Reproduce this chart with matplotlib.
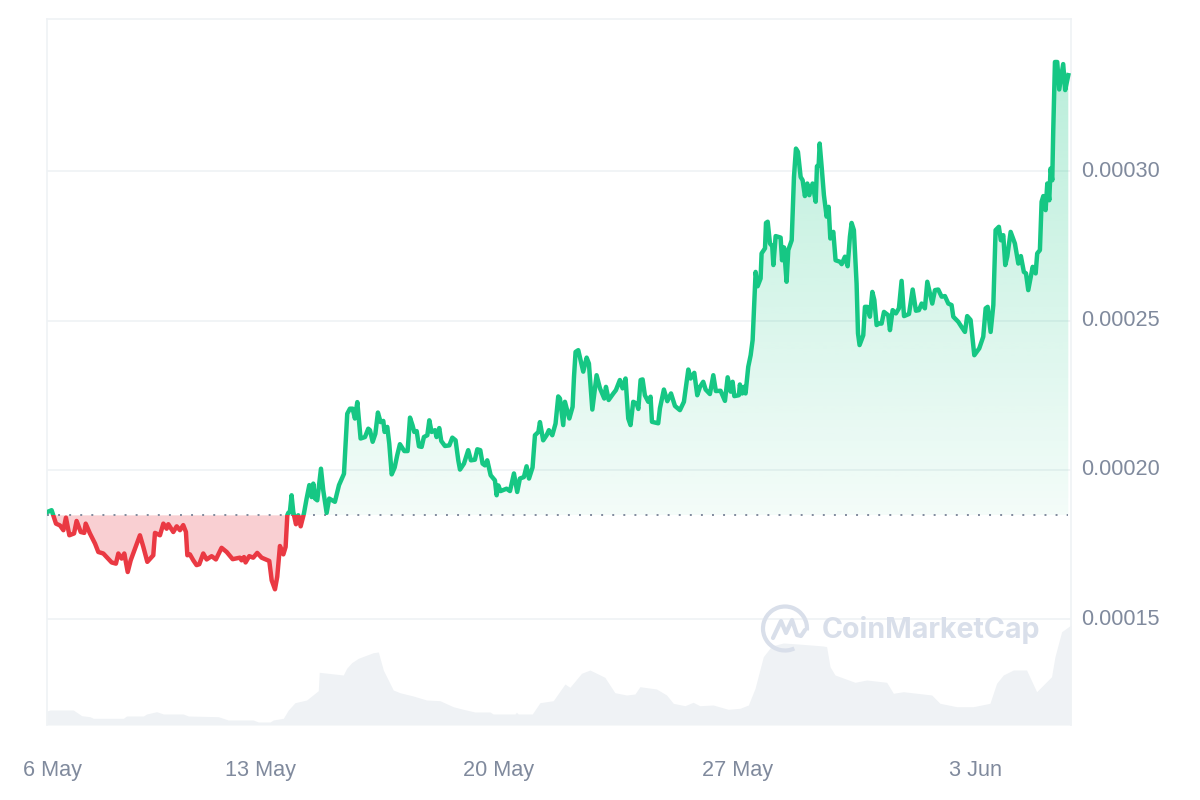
import numpy as np
import matplotlib
matplotlib.use("Agg")
import matplotlib.pyplot as plt
from matplotlib.path import Path
from matplotlib.patches import Rectangle, Arc

plt.rcParams['font.family'] = ['Liberation Sans', 'DejaVu Sans']

# hours since 6 May 00:00
hours = [18.2,21.2,22.4,24.3,27.1,29.5,31.3,33.7,37.0,38.8,41.7,44.2,45.2,48.2,51.8,54.1,57.6,63.5,66.5,68.2,70.5,72.4,74.8,76.9,83.4,85.8,88.6,92.8,94.0,97.5,99.9,102.2,103.4,106.9,109.3,111.6,113.9,115.8,116.8,118.6,121.0,123.3,125.2,128.0,130.4,133.9,136.9,140.9,144.5,148.7,153.8,155.0,156.7,157.8,160.4,163.2,166.0,169.1,174.5,176.2,178.5,180.1,182.0,184.4,186.0,187.2,187.9,189.0,190.2,191.4,193.3,194.9,196.6,198.9,200.8,202.7,204.3,205.5,206.7,208.3,210.9,212.5,214.9,216.7,220.7,223.6,227.1,229.4,231.3,233.2,234.8,236.5,238.8,241.9,244.2,
 245.4,247.3,249.2,251.0,252.9,254.8,255.7,257.6,259.0,260.7,262.8,264.6,266.5,269.6,271.9,273.6,275.4,276.6,278.3,279.9,281.8,283.4,285.8,287.2,288.8,291.2,292.3,294.2,295.6,298.2,301.3,303.4,305.7,307.6,308.8,311.6,314.6,316.5,319.3,321.0,323.1,324.7,326.4,328.0,330.4,333.4,334.6,335.8,337.4,341.6,344.0,346.8,349.1,351.0,353.8,355.7,357.4,359.9,361.6,364.0,365.1,367.4,369.8,371.4,373.8,376.1,378.0,
 379.2,381.5,382.7,385.8,388.1,389.1,390.2,392.1,395.6,398.0,399.6,402.0,405.0,407.4,410.4,411.6,413.5,416.8,418.6,421.4,423.3,425.4,427.3,428.9,430.8,433.2,434.4,436.0,437.4,439.0,441.4,443.0,444.0,448.4,449.6,452.4,454.8,457.4,460.2,463.7,466.5,469.6,471.2,473.8,475.9,477.8,480.1,481.8,484.8,487.2,489.0,492.3,495.4,497.3,499.4,500.8,502.0,505.2,505.9,507.6,508.8,509.9,511.8,513.5,514.9,
 517.0,518.4,520.5,521.2,523.6,524.3,525.5,527.1,528.7,529.5,531.1,534.6,535.6,537.0,538.8,540.0,542.4,544.0,545.4,546.8,548.7,550.1,551.7,553.4,554.8,557.1,559.3,560.2,561.4,562.1,563.5,565.1,567.0,568.4,569.6,571.7,573.3,576.4,577.6,579.9,581.8,583.4,584.6,586.2,588.1,589.1,590.2,592.8,594.0,595.6,597.5,599.2,600.6,602.2,603.9,605.7,607.4,610.4,611.6,613.5,615.8,617.9,619.8,621.5,625.0,627.6,629.9,632.0,633.9,636.2,637.9,641.4,643.3,645.6,648.0,650.3,652.7,655.0,656.2,659.7,662.0,664.4,666.0,668.4,671.0,674.5,677.3,679.0,680.4,682.5,684.4,686.0,688.3,689.7,691.4,692.8,694.2,696.6,699.6,702.0,703.8,705.9,707.4,709.0,712.1,714.2,715.3,717.2,718.4,719.6,721.2,722.4,723.8,724.7,725.9,726.6,727.8,729.4,730.8,733.6,735.0,737.2]

# price in units of 0.00001
price_e5 = [18.59,18.65,18.48,18.20,18.14,17.98,18.40,17.81,17.87,18.29,17.92,17.89,18.20,17.87,17.53,17.25,17.20,16.90,16.86,17.20,17.03,17.20,16.58,16.97,17.81,17.42,16.92,17.14,17.89,17.81,18.20,18.03,18.18,17.92,18.11,17.98,18.15,17.92,17.14,17.17,16.97,16.81,16.84,17.20,17.00,17.11,17.00,17.39,17.25,17.01,17.06,16.97,17.08,16.90,17.11,17.06,17.22,17.06,16.95,16.30,16.00,16.42,17.45,17.17,17.42,18.48,18.56,18.59,19.15,18.59,18.18,18.48,18.11,18.54,19.04,19.49,19.09,19.54,19.04,18.98,20.04,19.32,18.56,19.04,18.93,19.49,19.87,21.88,22.05,22.05,21.72,22.27,21.05,21.10,21.38,
 21.33,20.94,21.21,21.92,21.60,21.64,21.27,21.44,20.88,19.85,20.08,20.49,20.86,20.63,20.63,21.75,21.49,21.27,21.30,20.79,20.77,21.10,21.16,21.66,21.27,21.33,21.10,21.40,20.97,20.80,20.82,21.08,20.99,20.32,20.01,20.21,20.66,20.32,20.34,20.69,20.66,20.21,20.15,20.32,19.82,19.65,19.15,19.48,19.29,19.37,19.29,19.88,19.26,19.71,19.76,20.12,19.71,20.08,21.16,21.27,21.60,20.99,21.16,21.33,21.16,21.55,22.46,
 22.39,21.50,22.28,21.72,22.11,23.12,23.95,24.01,23.29,23.76,23.56,22.02,23.17,22.73,22.39,22.78,22.34,22.56,22.67,23.01,22.73,23.06,21.72,21.50,22.28,22.22,22.04,23.01,23.03,22.50,22.28,22.45,21.61,21.56,22.06,22.69,22.30,22.56,22.14,22.00,22.28,23.36,23.06,23.25,22.50,22.78,22.95,22.69,22.54,23.17,22.64,22.65,22.31,23.10,22.62,22.95,22.47,22.50,22.86,22.56,22.78,22.56,23.45,23.84,24.35,
 26.63,26.15,26.41,27.25,27.42,28.27,28.31,27.58,27.49,26.86,27.83,27.78,27.02,27.45,26.30,27.36,27.69,29.81,30.76,30.65,29.81,29.70,29.17,29.59,29.20,29.59,28.98,30.17,30.20,30.93,30.15,29.20,28.48,28.81,27.75,27.97,27.02,26.97,26.89,27.14,26.82,27.81,28.27,28.03,26.24,24.57,24.18,24.51,25.46,25.46,25.13,25.96,25.69,24.85,24.90,24.90,25.29,25.18,24.68,25.35,25.24,25.41,26.33,25.15,25.22,26.04,25.33,25.35,25.57,25.41,26.30,25.57,26.02,26.04,25.80,25.82,25.57,25.52,25.13,24.96,24.79,24.62,25.15,25.02,23.84,24.07,24.46,25.41,25.46,24.62,25.52,28.03,28.14,27.69,27.86,26.86,27.14,27.97,27.58,26.91,27.16,26.63,26.58,26.02,26.80,26.58,27.25,27.36,28.98,29.17,28.70,29.59,29.03,30.09,29.70,31.38,33.66,33.66,32.74,33.59,32.72,33.22]

baseline_price = 0.00018478

# relative volume (arbitrary units, unlabelled in the chart)
vol_hours = [18.0,20,36.5,42.4,48.2,50.6,71.7,74,85.8,88.1,95.2,99.9,113.9,117.5,138.6,145.6,163.2,166.8,175,177.3,184.4,187.9,192.6,200.8,209,209.7,226.6,229,232.5,237.2,247.7,251.3,254.8,261.8,266.5,275.9,285.3,294.7,304,311.1,319.3,329.9,332.2,347.5,348.6,349.8,359.7,365.1,374.5,382.7,386.2,394.4,400.3,410.8,417.9,426.1,432,435.5,447.2,454.3,459,467.2,473,477.7,487.1,497.7,506,511.9,516.6,522.4,528.3,536.5,547.1,564.7,567,569.4,572.9,587,595.2,609.3,614,621,641,646.8,658.6,670.3,682,686.7,691.4,698.5,707.8,714.9,725.4,727.8,732.5,739.1]
volume = [14,15,15,9.3,8.3,6.7,6.7,9,9,11,13.3,11,11,9,8.3,5,5,3,3,5,6.7,15,22.3,25,34.3,52.7,50,56.7,62.3,66.7,72.3,73,55,35,32.3,29,25,24.3,18.3,15.7,13,13,11,11,12.7,11,11,22.3,24.3,41,37.7,51.7,55,47.7,32.3,30,31,38.3,36,30,21.7,19.3,22.7,19.3,20,15.7,16.7,20,36.7,68.3,79,82,81,79,78.3,58.3,50,42.7,45,42.7,31.7,33.3,30,21.7,18.3,18.3,21.7,41.7,50,55,55,33.3,48.3,68.3,93.3,100]

price_ticks = [0.00015, 0.00020, 0.00025, 0.00030]
price_tick_labels = ['0.00015', '0.00020', '0.00025', '0.00030']
date_ticks = [21.5, 168, 336, 504, 672]
date_tick_labels = ['6 May', '13 May', '20 May', '27 May', '3 Jun']

GREEN, RED = '#16C784', '#EA3943'
GRID, LABEL = '#EFF2F5', '#808A9D'

W, H = 1200, 800
L, R, T, B = 47, 1071, 19, 725
rect = [L / W, 1 - B / H, (R - L) / W, (B - T) / H]
x_rng = (17.96, 739.1)
y_rng = (0.00011456, 0.00035100)

fig = plt.figure(figsize=(12, 8), dpi=100, facecolor='white')

# Volume axes, underneath
axv = fig.add_axes(rect, zorder=1)
axv.fill_between(vol_hours, 0, volume, color=GRID, lw=0)
axv.set_xlim(*x_rng)
axv.set_ylim(0, B - T)
axv.axis('off')

# Price axes
ax = fig.add_axes(rect, zorder=2)
ax.patch.set_alpha(0)
t = np.array(hours)
p = np.array(price_e5) * 1e-5

for yy in price_ticks:
    ax.axhline(yy, color=GRID, lw=1.2, zorder=1)

# Red area below the opening price
ax.fill_between(t, p, baseline_price, where=p <= baseline_price, interpolate=True,
                color=RED, alpha=0.24, lw=0, zorder=2)

# Green gradient above the opening price
area = ax.fill_between(t, p, baseline_price, where=p >= baseline_price, interpolate=True,
                       color='none', lw=0)
clip = Path.make_compound_path(*area.get_paths())
n = 256
grad = np.zeros((n, 1, 4))
grad[..., 0] = 22 / 255
grad[..., 1] = 199 / 255
grad[..., 2] = 132 / 255
grad[:, 0, 3] = np.linspace(0.30, 0.05, n)
im = ax.imshow(grad, extent=(x_rng[0], x_rng[1], baseline_price, p.max()),
               origin='upper', aspect='auto', zorder=2, interpolation='bilinear')
im.set_clip_path(clip, transform=ax.transData)

# Opening-price dotted line
ax.plot([x_rng[0], t[-1]], [baseline_price] * 2, color=LABEL, lw=1.4,
        ls=(0, (1, 4.7)), zorder=3)

# Price line, split in colour at the opening price
up, = ax.plot(t, p, color=GREEN, lw=3.2, solid_joinstyle='round', zorder=4)
down, = ax.plot(t, p, color=RED, lw=3.2, solid_joinstyle='round', zorder=4)
up.set_clip_path(Rectangle((x_rng[0], baseline_price), x_rng[1] - x_rng[0], 1,
                           transform=ax.transData))
down.set_clip_path(Rectangle((x_rng[0], 0), x_rng[1] - x_rng[0], baseline_price,
                             transform=ax.transData))

ax.set_xlim(*x_rng)
ax.set_ylim(*y_rng)
ax.yaxis.tick_right()
ax.set_yticks(price_ticks, price_tick_labels)
ax.set_xticks(date_ticks, date_tick_labels)
ax.tick_params(axis='both', length=0, labelsize=15.6, labelcolor=LABEL)
ax.tick_params(axis='y', pad=7.5)
ax.tick_params(axis='x', pad=25)
for lab in ax.get_yticklabels():
    lab.set_verticalalignment('center')
ax.spines['bottom'].set_visible(False)
for side in ('left', 'right', 'top'):
    ax.spines[side].set_color(GRID)
    ax.spines[side].set_linewidth(1.2)

# CoinMarketCap watermark
wm = fig.add_axes([0, 0, 1, 1], zorder=3)
wm.set_xlim(0, W)
wm.set_ylim(H, 0)
wm.axis('off')
mark = '#D9DFEA'
wm.add_patch(Arc((785, 628.5), 44, 44, theta1=65, theta2=5, color=mark, lw=3))
wm.plot([773, 781, 786, 792, 797, 801, 805], [638, 621, 633, 620, 635, 636, 630],
        color=mark, lw=3, solid_joinstyle='round', solid_capstyle='round')
wm.text(822, 630, 'CoinMarketCap', color=mark, fontsize=20.6, fontweight='bold',
        family=['Inter', 'DejaVu Sans'], va='center', ha='left')

fig.savefig('out.png', dpi=100)
